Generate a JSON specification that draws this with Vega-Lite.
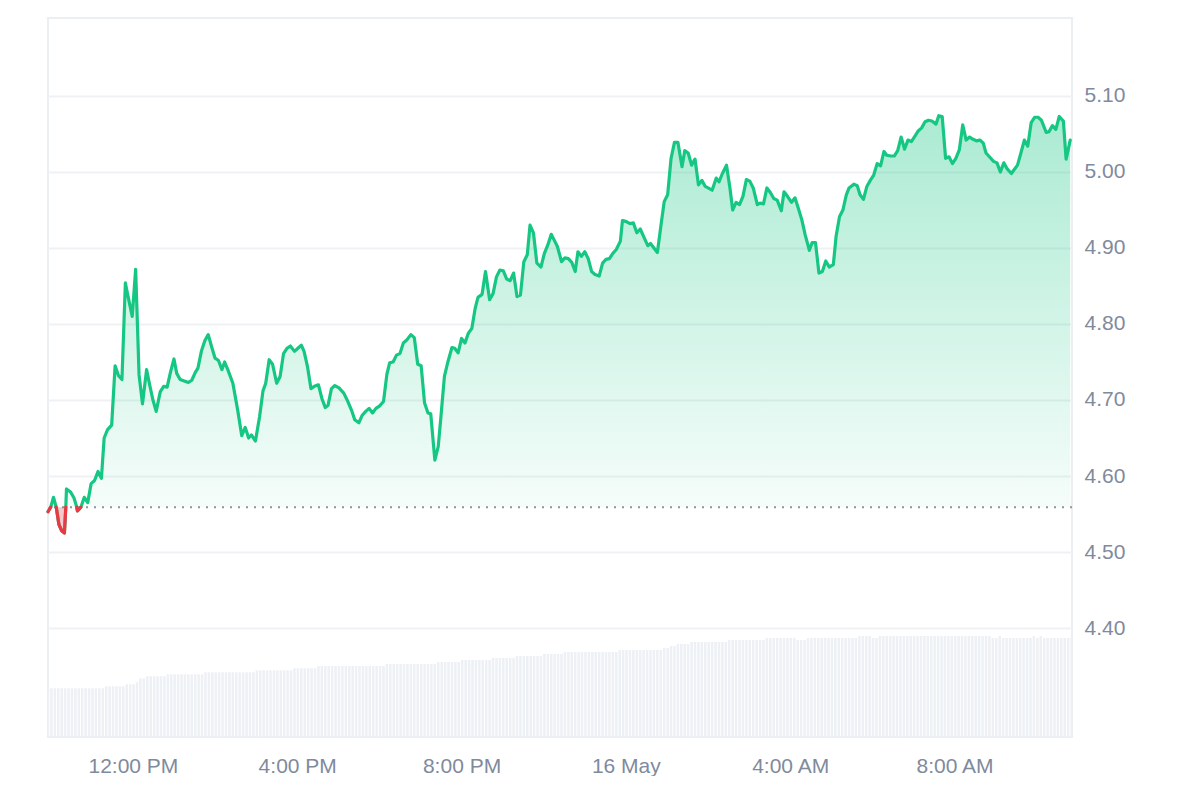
{
  "$schema": "https://vega.github.io/schema/vega-lite/v6.json",
  "width": 1024,
  "height": 719,
  "padding": {"left": 46, "top": 18, "right": 0, "bottom": 0},
  "background": "white",
  "config": {
    "view": {"stroke": "#eceff2", "strokeWidth": 2},
    "axis": {"domain": false, "ticks": false, "labelFont": "Liberation Sans", "labelFontSize": 21, "labelColor": "#808a9d"}
  },
  "datasets": {
    "price": [
      {"t":"2024-05-15T09:56","p":4.553},{"t":"2024-05-15T10:00","p":4.559},{"t":"2024-05-15T10:04","p":4.572},{"t":"2024-05-15T10:08","p":4.559},
      {"t":"2024-05-15T10:12","p":4.536},{"t":"2024-05-15T10:16","p":4.528},{"t":"2024-05-15T10:20","p":4.525},{"t":"2024-05-15T10:22","p":4.559},
      {"t":"2024-05-15T10:23","p":4.583},{"t":"2024-05-15T10:29","p":4.579},{"t":"2024-05-15T10:34","p":4.571},{"t":"2024-05-15T10:38","p":4.559},
      {"t":"2024-05-15T10:39","p":4.554},{"t":"2024-05-15T10:44","p":4.559},{"t":"2024-05-15T10:49","p":4.572},{"t":"2024-05-15T10:54","p":4.565},
      {"t":"2024-05-15T10:59","p":4.590},{"t":"2024-05-15T11:04","p":4.594},{"t":"2024-05-15T11:09","p":4.606},{"t":"2024-05-15T11:14","p":4.597},
      {"t":"2024-05-15T11:18","p":4.650},{"t":"2024-05-15T11:23","p":4.661},{"t":"2024-05-15T11:29","p":4.667},{"t":"2024-05-15T11:34","p":4.745},
      {"t":"2024-05-15T11:39","p":4.732},{"t":"2024-05-15T11:44","p":4.727},{"t":"2024-05-15T11:49","p":4.854},{"t":"2024-05-15T11:53","p":4.836},
      {"t":"2024-05-15T11:59","p":4.810},{"t":"2024-05-15T12:04","p":4.872},{"t":"2024-05-15T12:09","p":4.733},{"t":"2024-05-15T12:14","p":4.695},
      {"t":"2024-05-15T12:20","p":4.740},{"t":"2024-05-15T12:24","p":4.722},{"t":"2024-05-15T12:29","p":4.701},{"t":"2024-05-15T12:34","p":4.685},
      {"t":"2024-05-15T12:40","p":4.711},{"t":"2024-05-15T12:45","p":4.718},{"t":"2024-05-15T12:50","p":4.717},{"t":"2024-05-15T12:55","p":4.737},
      {"t":"2024-05-15T13:00","p":4.754},{"t":"2024-05-15T13:04","p":4.735},{"t":"2024-05-15T13:09","p":4.727},{"t":"2024-05-15T13:15","p":4.725},
      {"t":"2024-05-15T13:21","p":4.723},{"t":"2024-05-15T13:26","p":4.726},{"t":"2024-05-15T13:31","p":4.736},{"t":"2024-05-15T13:35","p":4.742},
      {"t":"2024-05-15T13:40","p":4.764},{"t":"2024-05-15T13:45","p":4.778},{"t":"2024-05-15T13:50","p":4.786},{"t":"2024-05-15T13:55","p":4.770},
      {"t":"2024-05-15T14:00","p":4.755},{"t":"2024-05-15T14:05","p":4.752},{"t":"2024-05-15T14:10","p":4.740},{"t":"2024-05-15T14:14","p":4.750},
      {"t":"2024-05-15T14:19","p":4.739},{"t":"2024-05-15T14:26","p":4.722},{"t":"2024-05-15T14:33","p":4.687},{"t":"2024-05-15T14:39","p":4.653},
      {"t":"2024-05-15T14:44","p":4.664},{"t":"2024-05-15T14:49","p":4.650},{"t":"2024-05-15T14:53","p":4.654},{"t":"2024-05-15T14:59","p":4.646},
      {"t":"2024-05-15T15:05","p":4.678},{"t":"2024-05-15T15:10","p":4.712},{"t":"2024-05-15T15:14","p":4.722},{"t":"2024-05-15T15:19","p":4.753},
      {"t":"2024-05-15T15:24","p":4.747},{"t":"2024-05-15T15:30","p":4.722},{"t":"2024-05-15T15:35","p":4.731},{"t":"2024-05-15T15:40","p":4.761},
      {"t":"2024-05-15T15:45","p":4.768},{"t":"2024-05-15T15:50","p":4.771},{"t":"2024-05-15T15:56","p":4.764},{"t":"2024-05-15T16:01","p":4.768},
      {"t":"2024-05-15T16:06","p":4.772},{"t":"2024-05-15T16:10","p":4.764},{"t":"2024-05-15T16:15","p":4.744},{"t":"2024-05-15T16:20","p":4.715},
      {"t":"2024-05-15T16:25","p":4.718},{"t":"2024-05-15T16:31","p":4.720},{"t":"2024-05-15T16:36","p":4.702},{"t":"2024-05-15T16:41","p":4.690},
      {"t":"2024-05-15T16:45","p":4.693},{"t":"2024-05-15T16:50","p":4.715},{"t":"2024-05-15T16:55","p":4.719},{"t":"2024-05-15T17:01","p":4.716},
      {"t":"2024-05-15T17:08","p":4.709},{"t":"2024-05-15T17:14","p":4.698},{"t":"2024-05-15T17:20","p":4.685},{"t":"2024-05-15T17:24","p":4.674},
      {"t":"2024-05-15T17:30","p":4.670},{"t":"2024-05-15T17:35","p":4.680},{"t":"2024-05-15T17:40","p":4.685},{"t":"2024-05-15T17:45","p":4.689},
      {"t":"2024-05-15T17:50","p":4.683},{"t":"2024-05-15T17:55","p":4.689},{"t":"2024-05-15T18:00","p":4.692},{"t":"2024-05-15T18:06","p":4.698},
      {"t":"2024-05-15T18:11","p":4.734},{"t":"2024-05-15T18:15","p":4.749},{"t":"2024-05-15T18:20","p":4.750},{"t":"2024-05-15T18:25","p":4.759},
      {"t":"2024-05-15T18:30","p":4.761},{"t":"2024-05-15T18:35","p":4.775},{"t":"2024-05-15T18:40","p":4.779},{"t":"2024-05-15T18:46","p":4.786},
      {"t":"2024-05-15T18:51","p":4.782},{"t":"2024-05-15T18:56","p":4.747},{"t":"2024-05-15T19:01","p":4.745},{"t":"2024-05-15T19:06","p":4.696},
      {"t":"2024-05-15T19:11","p":4.683},{"t":"2024-05-15T19:15","p":4.682},{"t":"2024-05-15T19:21","p":4.621},{"t":"2024-05-15T19:26","p":4.639},
      {"t":"2024-05-15T19:30","p":4.679},{"t":"2024-05-15T19:35","p":4.731},{"t":"2024-05-15T19:40","p":4.750},{"t":"2024-05-15T19:46","p":4.769},
      {"t":"2024-05-15T19:50","p":4.768},{"t":"2024-05-15T19:55","p":4.762},{"t":"2024-05-15T20:00","p":4.781},{"t":"2024-05-15T20:05","p":4.775},
      {"t":"2024-05-15T20:10","p":4.788},{"t":"2024-05-15T20:15","p":4.794},{"t":"2024-05-15T20:20","p":4.821},{"t":"2024-05-15T20:24","p":4.835},
      {"t":"2024-05-15T20:30","p":4.839},{"t":"2024-05-15T20:35","p":4.869},{"t":"2024-05-15T20:41","p":4.832},{"t":"2024-05-15T20:46","p":4.840},
      {"t":"2024-05-15T20:51","p":4.862},{"t":"2024-05-15T20:56","p":4.871},{"t":"2024-05-15T21:01","p":4.870},{"t":"2024-05-15T21:06","p":4.859},
      {"t":"2024-05-15T21:11","p":4.857},{"t":"2024-05-15T21:16","p":4.867},{"t":"2024-05-15T21:21","p":4.836},{"t":"2024-05-15T21:26","p":4.838},
      {"t":"2024-05-15T21:31","p":4.882},{"t":"2024-05-15T21:36","p":4.891},{"t":"2024-05-15T21:40","p":4.930},{"t":"2024-05-15T21:45","p":4.920},
      {"t":"2024-05-15T21:50","p":4.880},{"t":"2024-05-15T21:56","p":4.875},{"t":"2024-05-15T22:01","p":4.893},{"t":"2024-05-15T22:06","p":4.904},
      {"t":"2024-05-15T22:11","p":4.918},{"t":"2024-05-15T22:15","p":4.911},{"t":"2024-05-15T22:20","p":4.902},{"t":"2024-05-15T22:26","p":4.882},
      {"t":"2024-05-15T22:31","p":4.887},{"t":"2024-05-15T22:36","p":4.886},{"t":"2024-05-15T22:41","p":4.881},{"t":"2024-05-15T22:46","p":4.869},
      {"t":"2024-05-15T22:50","p":4.895},{"t":"2024-05-15T22:55","p":4.889},{"t":"2024-05-15T23:00","p":4.895},{"t":"2024-05-15T23:05","p":4.886},
      {"t":"2024-05-15T23:10","p":4.869},{"t":"2024-05-15T23:15","p":4.865},{"t":"2024-05-15T23:21","p":4.863},{"t":"2024-05-15T23:26","p":4.880},
      {"t":"2024-05-15T23:31","p":4.885},{"t":"2024-05-15T23:36","p":4.886},{"t":"2024-05-15T23:41","p":4.893},{"t":"2024-05-15T23:46","p":4.898},
      {"t":"2024-05-15T23:52","p":4.909},{"t":"2024-05-15T23:55","p":4.936},{"t":"2024-05-16T00:00","p":4.935},{"t":"2024-05-16T00:06","p":4.932},
      {"t":"2024-05-16T00:11","p":4.933},{"t":"2024-05-16T00:16","p":4.920},{"t":"2024-05-16T00:21","p":4.925},{"t":"2024-05-16T00:26","p":4.915},
      {"t":"2024-05-16T00:32","p":4.903},{"t":"2024-05-16T00:36","p":4.906},{"t":"2024-05-16T00:41","p":4.900},{"t":"2024-05-16T00:46","p":4.894},
      {"t":"2024-05-16T00:51","p":4.928},{"t":"2024-05-16T00:56","p":4.961},{"t":"2024-05-16T01:01","p":4.970},{"t":"2024-05-16T01:06","p":5.018},
      {"t":"2024-05-16T01:11","p":5.039},{"t":"2024-05-16T01:16","p":5.039},{"t":"2024-05-16T01:22","p":5.007},{"t":"2024-05-16T01:26","p":5.028},
      {"t":"2024-05-16T01:31","p":5.025},{"t":"2024-05-16T01:36","p":5.009},{"t":"2024-05-16T01:41","p":5.017},{"t":"2024-05-16T01:46","p":4.983},
      {"t":"2024-05-16T01:51","p":4.989},{"t":"2024-05-16T01:56","p":4.981},{"t":"2024-05-16T02:00","p":4.979},{"t":"2024-05-16T02:06","p":4.976},
      {"t":"2024-05-16T02:12","p":4.992},{"t":"2024-05-16T02:16","p":4.987},{"t":"2024-05-16T02:21","p":4.998},{"t":"2024-05-16T02:27","p":5.009},
      {"t":"2024-05-16T02:32","p":4.979},{"t":"2024-05-16T02:36","p":4.950},{"t":"2024-05-16T02:41","p":4.960},{"t":"2024-05-16T02:46","p":4.957},
      {"t":"2024-05-16T02:51","p":4.968},{"t":"2024-05-16T02:56","p":4.990},{"t":"2024-05-16T03:01","p":4.988},{"t":"2024-05-16T03:06","p":4.979},
      {"t":"2024-05-16T03:12","p":4.957},{"t":"2024-05-16T03:16","p":4.959},{"t":"2024-05-16T03:21","p":4.958},{"t":"2024-05-16T03:26","p":4.979},
      {"t":"2024-05-16T03:31","p":4.973},{"t":"2024-05-16T03:36","p":4.965},{"t":"2024-05-16T03:41","p":4.963},{"t":"2024-05-16T03:47","p":4.949},
      {"t":"2024-05-16T03:51","p":4.974},{"t":"2024-05-16T03:56","p":4.968},{"t":"2024-05-16T04:02","p":4.960},{"t":"2024-05-16T04:07","p":4.966},
      {"t":"2024-05-16T04:12","p":4.952},{"t":"2024-05-16T04:17","p":4.937},{"t":"2024-05-16T04:22","p":4.917},{"t":"2024-05-16T04:28","p":4.897},
      {"t":"2024-05-16T04:32","p":4.907},{"t":"2024-05-16T04:37","p":4.907},{"t":"2024-05-16T04:42","p":4.867},{"t":"2024-05-16T04:47","p":4.869},
      {"t":"2024-05-16T04:52","p":4.883},{"t":"2024-05-16T04:57","p":4.875},{"t":"2024-05-16T05:03","p":4.878},{"t":"2024-05-16T05:07","p":4.915},
      {"t":"2024-05-16T05:12","p":4.941},{"t":"2024-05-16T05:17","p":4.950},{"t":"2024-05-16T05:22","p":4.970},{"t":"2024-05-16T05:26","p":4.979},
      {"t":"2024-05-16T05:33","p":4.984},{"t":"2024-05-16T05:38","p":4.982},{"t":"2024-05-16T05:42","p":4.970},{"t":"2024-05-16T05:47","p":4.964},
      {"t":"2024-05-16T05:52","p":4.981},{"t":"2024-05-16T05:57","p":4.989},{"t":"2024-05-16T06:02","p":4.996},{"t":"2024-05-16T06:07","p":5.011},
      {"t":"2024-05-16T06:12","p":5.008},{"t":"2024-05-16T06:17","p":5.027},{"t":"2024-05-16T06:21","p":5.022},{"t":"2024-05-16T06:27","p":5.021},
      {"t":"2024-05-16T06:32","p":5.021},{"t":"2024-05-16T06:37","p":5.028},{"t":"2024-05-16T06:42","p":5.046},{"t":"2024-05-16T06:47","p":5.030},
      {"t":"2024-05-16T06:52","p":5.042},{"t":"2024-05-16T06:57","p":5.040},{"t":"2024-05-16T07:02","p":5.047},{"t":"2024-05-16T07:07","p":5.054},
      {"t":"2024-05-16T07:12","p":5.058},{"t":"2024-05-16T07:17","p":5.066},{"t":"2024-05-16T07:22","p":5.068},{"t":"2024-05-16T07:27","p":5.067},
      {"t":"2024-05-16T07:33","p":5.063},{"t":"2024-05-16T07:37","p":5.074},{"t":"2024-05-16T07:42","p":5.073},{"t":"2024-05-16T07:47","p":5.018},
      {"t":"2024-05-16T07:52","p":5.020},{"t":"2024-05-16T07:57","p":5.011},{"t":"2024-05-16T08:02","p":5.018},{"t":"2024-05-16T08:07","p":5.029},
      {"t":"2024-05-16T08:12","p":5.062},{"t":"2024-05-16T08:17","p":5.042},{"t":"2024-05-16T08:22","p":5.046},{"t":"2024-05-16T08:27","p":5.043},
      {"t":"2024-05-16T08:32","p":5.041},{"t":"2024-05-16T08:37","p":5.042},{"t":"2024-05-16T08:42","p":5.038},{"t":"2024-05-16T08:46","p":5.025},
      {"t":"2024-05-16T08:51","p":5.020},{"t":"2024-05-16T08:57","p":5.014},{"t":"2024-05-16T09:02","p":5.012},{"t":"2024-05-16T09:07","p":5.000},
      {"t":"2024-05-16T09:12","p":5.012},{"t":"2024-05-16T09:17","p":5.004},{"t":"2024-05-16T09:23","p":4.998},{"t":"2024-05-16T09:27","p":5.003},
      {"t":"2024-05-16T09:32","p":5.009},{"t":"2024-05-16T09:37","p":5.025},{"t":"2024-05-16T09:42","p":5.042},{"t":"2024-05-16T09:47","p":5.034},
      {"t":"2024-05-16T09:52","p":5.065},{"t":"2024-05-16T09:57","p":5.072},{"t":"2024-05-16T10:02","p":5.072},{"t":"2024-05-16T10:07","p":5.068},
      {"t":"2024-05-16T10:14","p":5.052},{"t":"2024-05-16T10:18","p":5.053},{"t":"2024-05-16T10:23","p":5.061},{"t":"2024-05-16T10:28","p":5.056},
      {"t":"2024-05-16T10:33","p":5.073},{"t":"2024-05-16T10:39","p":5.067},{"t":"2024-05-16T10:43","p":5.017},{"t":"2024-05-16T10:46","p":5.029},
      {"t":"2024-05-16T10:49","p":5.042}
    ],
    "vol": [
      {"t":"2024-05-15T09:56","v":4.87},
      {"t":"2024-05-15T10:01","v":4.87},{"t":"2024-05-15T10:06","v":4.87},{"t":"2024-05-15T10:11","v":4.87},{"t":"2024-05-15T10:16","v":4.87},{"t":"2024-05-15T10:21","v":4.87},{"t":"2024-05-15T10:26","v":4.87},
      {"t":"2024-05-15T10:31","v":4.87},{"t":"2024-05-15T10:36","v":4.87},{"t":"2024-05-15T10:41","v":4.87},{"t":"2024-05-15T10:46","v":4.87},{"t":"2024-05-15T10:51","v":4.87},{"t":"2024-05-15T10:56","v":4.87},
      {"t":"2024-05-15T11:01","v":4.87},{"t":"2024-05-15T11:06","v":4.87},{"t":"2024-05-15T11:11","v":4.87},{"t":"2024-05-15T11:16","v":4.87},{"t":"2024-05-15T11:21","v":5.07},{"t":"2024-05-15T11:26","v":5.07},
      {"t":"2024-05-15T11:31","v":5.07},{"t":"2024-05-15T11:36","v":5.07},{"t":"2024-05-15T11:41","v":5.07},{"t":"2024-05-15T11:46","v":5.07},{"t":"2024-05-15T11:51","v":5.27},{"t":"2024-05-15T11:56","v":5.27},
      {"t":"2024-05-15T12:01","v":5.27},{"t":"2024-05-15T12:06","v":5.47},{"t":"2024-05-15T12:11","v":5.87},{"t":"2024-05-15T12:16","v":5.87},{"t":"2024-05-15T12:21","v":6.07},{"t":"2024-05-15T12:26","v":6.07},
      {"t":"2024-05-15T12:31","v":6.07},{"t":"2024-05-15T12:36","v":6.07},{"t":"2024-05-15T12:41","v":6.07},{"t":"2024-05-15T12:46","v":6.07},{"t":"2024-05-15T12:51","v":6.27},{"t":"2024-05-15T12:56","v":6.27},
      {"t":"2024-05-15T13:01","v":6.27},{"t":"2024-05-15T13:06","v":6.27},{"t":"2024-05-15T13:11","v":6.27},{"t":"2024-05-15T13:16","v":6.27},{"t":"2024-05-15T13:21","v":6.27},{"t":"2024-05-15T13:26","v":6.27},
      {"t":"2024-05-15T13:31","v":6.27},{"t":"2024-05-15T13:36","v":6.27},{"t":"2024-05-15T13:41","v":6.27},{"t":"2024-05-15T13:46","v":6.47},{"t":"2024-05-15T13:51","v":6.47},{"t":"2024-05-15T13:56","v":6.47},
      {"t":"2024-05-15T14:01","v":6.47},{"t":"2024-05-15T14:06","v":6.47},{"t":"2024-05-15T14:11","v":6.47},{"t":"2024-05-15T14:16","v":6.47},{"t":"2024-05-15T14:21","v":6.47},{"t":"2024-05-15T14:26","v":6.47},
      {"t":"2024-05-15T14:31","v":6.47},{"t":"2024-05-15T14:36","v":6.47},{"t":"2024-05-15T14:41","v":6.47},{"t":"2024-05-15T14:46","v":6.47},{"t":"2024-05-15T14:51","v":6.47},{"t":"2024-05-15T14:56","v":6.47},
      {"t":"2024-05-15T15:01","v":6.67},{"t":"2024-05-15T15:06","v":6.67},{"t":"2024-05-15T15:11","v":6.67},{"t":"2024-05-15T15:16","v":6.67},{"t":"2024-05-15T15:21","v":6.67},{"t":"2024-05-15T15:26","v":6.67},
      {"t":"2024-05-15T15:31","v":6.67},{"t":"2024-05-15T15:36","v":6.67},{"t":"2024-05-15T15:41","v":6.67},{"t":"2024-05-15T15:46","v":6.67},{"t":"2024-05-15T15:51","v":6.67},{"t":"2024-05-15T15:56","v":6.87},
      {"t":"2024-05-15T16:01","v":6.87},{"t":"2024-05-15T16:06","v":6.87},{"t":"2024-05-15T16:11","v":6.87},{"t":"2024-05-15T16:16","v":6.87},{"t":"2024-05-15T16:21","v":6.87},{"t":"2024-05-15T16:26","v":6.87},
      {"t":"2024-05-15T16:31","v":7.1},{"t":"2024-05-15T16:36","v":7.1},{"t":"2024-05-15T16:41","v":7.1},{"t":"2024-05-15T16:46","v":7.1},{"t":"2024-05-15T16:51","v":7.1},{"t":"2024-05-15T16:56","v":7.1},
      {"t":"2024-05-15T17:01","v":7.1},{"t":"2024-05-15T17:06","v":7.1},{"t":"2024-05-15T17:11","v":7.1},{"t":"2024-05-15T17:16","v":7.1},{"t":"2024-05-15T17:21","v":7.1},{"t":"2024-05-15T17:26","v":7.1},
      {"t":"2024-05-15T17:31","v":7.1},{"t":"2024-05-15T17:36","v":7.1},{"t":"2024-05-15T17:41","v":7.1},{"t":"2024-05-15T17:46","v":7.1},{"t":"2024-05-15T17:51","v":7.1},{"t":"2024-05-15T17:56","v":7.1},
      {"t":"2024-05-15T18:01","v":7.1},{"t":"2024-05-15T18:06","v":7.1},{"t":"2024-05-15T18:11","v":7.3},{"t":"2024-05-15T18:16","v":7.3},{"t":"2024-05-15T18:21","v":7.3},{"t":"2024-05-15T18:26","v":7.3},
      {"t":"2024-05-15T18:31","v":7.3},{"t":"2024-05-15T18:36","v":7.3},{"t":"2024-05-15T18:41","v":7.3},{"t":"2024-05-15T18:46","v":7.3},{"t":"2024-05-15T18:51","v":7.3},{"t":"2024-05-15T18:56","v":7.3},
      {"t":"2024-05-15T19:01","v":7.3},{"t":"2024-05-15T19:06","v":7.3},{"t":"2024-05-15T19:11","v":7.3},{"t":"2024-05-15T19:16","v":7.3},{"t":"2024-05-15T19:21","v":7.3},{"t":"2024-05-15T19:26","v":7.5},
      {"t":"2024-05-15T19:31","v":7.5},{"t":"2024-05-15T19:36","v":7.5},{"t":"2024-05-15T19:41","v":7.5},{"t":"2024-05-15T19:46","v":7.5},{"t":"2024-05-15T19:51","v":7.5},{"t":"2024-05-15T19:56","v":7.5},
      {"t":"2024-05-15T20:01","v":7.7},{"t":"2024-05-15T20:06","v":7.7},{"t":"2024-05-15T20:11","v":7.7},{"t":"2024-05-15T20:16","v":7.7},{"t":"2024-05-15T20:21","v":7.7},{"t":"2024-05-15T20:26","v":7.7},
      {"t":"2024-05-15T20:31","v":7.7},{"t":"2024-05-15T20:36","v":7.7},{"t":"2024-05-15T20:41","v":7.7},{"t":"2024-05-15T20:46","v":7.9},{"t":"2024-05-15T20:51","v":7.9},{"t":"2024-05-15T20:56","v":7.9},
      {"t":"2024-05-15T21:01","v":7.9},{"t":"2024-05-15T21:06","v":7.9},{"t":"2024-05-15T21:11","v":7.9},{"t":"2024-05-15T21:16","v":7.9},{"t":"2024-05-15T21:21","v":8.1},{"t":"2024-05-15T21:26","v":8.1},
      {"t":"2024-05-15T21:31","v":8.1},{"t":"2024-05-15T21:36","v":8.1},{"t":"2024-05-15T21:41","v":8.1},{"t":"2024-05-15T21:46","v":8.1},{"t":"2024-05-15T21:51","v":8.1},{"t":"2024-05-15T21:56","v":8.1},
      {"t":"2024-05-15T22:01","v":8.3},{"t":"2024-05-15T22:06","v":8.3},{"t":"2024-05-15T22:11","v":8.3},{"t":"2024-05-15T22:16","v":8.3},{"t":"2024-05-15T22:21","v":8.3},{"t":"2024-05-15T22:26","v":8.3},
      {"t":"2024-05-15T22:31","v":8.5},{"t":"2024-05-15T22:36","v":8.5},{"t":"2024-05-15T22:41","v":8.5},{"t":"2024-05-15T22:46","v":8.5},{"t":"2024-05-15T22:51","v":8.5},{"t":"2024-05-15T22:56","v":8.5},
      {"t":"2024-05-15T23:01","v":8.5},{"t":"2024-05-15T23:06","v":8.5},{"t":"2024-05-15T23:11","v":8.5},{"t":"2024-05-15T23:16","v":8.5},{"t":"2024-05-15T23:21","v":8.5},{"t":"2024-05-15T23:26","v":8.5},
      {"t":"2024-05-15T23:31","v":8.5},{"t":"2024-05-15T23:36","v":8.5},{"t":"2024-05-15T23:41","v":8.5},{"t":"2024-05-15T23:46","v":8.5},{"t":"2024-05-15T23:51","v":8.7},{"t":"2024-05-15T23:56","v":8.7},
      {"t":"2024-05-16T00:01","v":8.7},{"t":"2024-05-16T00:06","v":8.7},{"t":"2024-05-16T00:11","v":8.7},{"t":"2024-05-16T00:16","v":8.7},{"t":"2024-05-16T00:21","v":8.7},{"t":"2024-05-16T00:26","v":8.7},
      {"t":"2024-05-16T00:31","v":8.7},{"t":"2024-05-16T00:36","v":8.7},{"t":"2024-05-16T00:41","v":8.7},{"t":"2024-05-16T00:46","v":8.7},{"t":"2024-05-16T00:51","v":8.7},{"t":"2024-05-16T00:56","v":8.9},
      {"t":"2024-05-16T01:01","v":8.9},{"t":"2024-05-16T01:06","v":9.1},{"t":"2024-05-16T01:11","v":9.1},{"t":"2024-05-16T01:16","v":9.3},{"t":"2024-05-16T01:21","v":9.3},{"t":"2024-05-16T01:26","v":9.3},
      {"t":"2024-05-16T01:31","v":9.3},{"t":"2024-05-16T01:36","v":9.5},{"t":"2024-05-16T01:41","v":9.5},{"t":"2024-05-16T01:46","v":9.5},{"t":"2024-05-16T01:51","v":9.5},{"t":"2024-05-16T01:56","v":9.5},
      {"t":"2024-05-16T02:01","v":9.5},{"t":"2024-05-16T02:06","v":9.5},{"t":"2024-05-16T02:11","v":9.5},{"t":"2024-05-16T02:16","v":9.5},{"t":"2024-05-16T02:21","v":9.5},{"t":"2024-05-16T02:26","v":9.5},
      {"t":"2024-05-16T02:31","v":9.7},{"t":"2024-05-16T02:36","v":9.7},{"t":"2024-05-16T02:41","v":9.7},{"t":"2024-05-16T02:46","v":9.7},{"t":"2024-05-16T02:51","v":9.7},{"t":"2024-05-16T02:56","v":9.7},
      {"t":"2024-05-16T03:01","v":9.7},{"t":"2024-05-16T03:06","v":9.7},{"t":"2024-05-16T03:11","v":9.7},{"t":"2024-05-16T03:16","v":9.7},{"t":"2024-05-16T03:21","v":9.7},{"t":"2024-05-16T03:26","v":9.9},
      {"t":"2024-05-16T03:31","v":9.9},{"t":"2024-05-16T03:36","v":9.9},{"t":"2024-05-16T03:41","v":9.9},{"t":"2024-05-16T03:46","v":9.9},{"t":"2024-05-16T03:51","v":9.9},{"t":"2024-05-16T03:56","v":9.9},
      {"t":"2024-05-16T04:01","v":9.9},{"t":"2024-05-16T04:06","v":9.9},{"t":"2024-05-16T04:11","v":9.7},{"t":"2024-05-16T04:16","v":9.7},{"t":"2024-05-16T04:21","v":9.7},{"t":"2024-05-16T04:26","v":9.9},
      {"t":"2024-05-16T04:31","v":9.9},{"t":"2024-05-16T04:36","v":9.9},{"t":"2024-05-16T04:41","v":9.9},{"t":"2024-05-16T04:46","v":9.9},{"t":"2024-05-16T04:51","v":9.9},{"t":"2024-05-16T04:56","v":9.9},
      {"t":"2024-05-16T05:01","v":9.9},{"t":"2024-05-16T05:06","v":9.9},{"t":"2024-05-16T05:11","v":9.9},{"t":"2024-05-16T05:16","v":9.9},{"t":"2024-05-16T05:21","v":9.9},{"t":"2024-05-16T05:26","v":9.9},
      {"t":"2024-05-16T05:31","v":9.9},{"t":"2024-05-16T05:36","v":9.9},{"t":"2024-05-16T05:41","v":10.1},{"t":"2024-05-16T05:46","v":10.1},{"t":"2024-05-16T05:51","v":10.1},{"t":"2024-05-16T05:56","v":10.1},
      {"t":"2024-05-16T06:01","v":9.9},{"t":"2024-05-16T06:06","v":9.9},{"t":"2024-05-16T06:11","v":10.1},{"t":"2024-05-16T06:16","v":10.1},{"t":"2024-05-16T06:21","v":10.1},{"t":"2024-05-16T06:26","v":10.1},
      {"t":"2024-05-16T06:31","v":10.1},{"t":"2024-05-16T06:36","v":10.1},{"t":"2024-05-16T06:41","v":10.1},{"t":"2024-05-16T06:46","v":10.1},{"t":"2024-05-16T06:51","v":10.1},{"t":"2024-05-16T06:56","v":10.1},
      {"t":"2024-05-16T07:01","v":10.1},{"t":"2024-05-16T07:06","v":10.1},{"t":"2024-05-16T07:11","v":10.1},{"t":"2024-05-16T07:16","v":10.1},{"t":"2024-05-16T07:21","v":10.1},{"t":"2024-05-16T07:26","v":10.1},
      {"t":"2024-05-16T07:31","v":10.1},{"t":"2024-05-16T07:36","v":10.1},{"t":"2024-05-16T07:41","v":10.1},{"t":"2024-05-16T07:46","v":10.1},{"t":"2024-05-16T07:51","v":10.1},{"t":"2024-05-16T07:56","v":10.1},
      {"t":"2024-05-16T08:01","v":10.1},{"t":"2024-05-16T08:06","v":10.1},{"t":"2024-05-16T08:11","v":10.1},{"t":"2024-05-16T08:16","v":10.1},{"t":"2024-05-16T08:21","v":10.1},{"t":"2024-05-16T08:26","v":10.1},
      {"t":"2024-05-16T08:31","v":10.1},{"t":"2024-05-16T08:36","v":10.1},{"t":"2024-05-16T08:41","v":10.1},{"t":"2024-05-16T08:46","v":10.1},{"t":"2024-05-16T08:51","v":10.1},{"t":"2024-05-16T08:56","v":9.9},
      {"t":"2024-05-16T09:01","v":9.9},{"t":"2024-05-16T09:06","v":10.1},{"t":"2024-05-16T09:11","v":9.9},{"t":"2024-05-16T09:16","v":9.9},{"t":"2024-05-16T09:21","v":9.9},{"t":"2024-05-16T09:26","v":9.9},
      {"t":"2024-05-16T09:31","v":9.9},{"t":"2024-05-16T09:36","v":9.9},{"t":"2024-05-16T09:41","v":9.9},{"t":"2024-05-16T09:46","v":9.9},{"t":"2024-05-16T09:51","v":9.9},{"t":"2024-05-16T09:56","v":10.1},
      {"t":"2024-05-16T10:01","v":9.9},{"t":"2024-05-16T10:06","v":10.1},{"t":"2024-05-16T10:11","v":9.9},{"t":"2024-05-16T10:16","v":9.9},{"t":"2024-05-16T10:21","v":9.9},{"t":"2024-05-16T10:26","v":9.9},
      {"t":"2024-05-16T10:31","v":9.9},{"t":"2024-05-16T10:36","v":9.9},{"t":"2024-05-16T10:41","v":9.9},{"t":"2024-05-16T10:46","v":9.9},{"t":"2024-05-16T10:51","v":9.9}
    ]
  },
  "layer": [
    {
      "data": {"name": "vol", "format": {"parse": {"t": "utc:'%Y-%m-%dT%H:%M'"}}},
      "mark": {"type": "bar", "width": 2.5, "color": "#edf0f4", "clip": true},
      "encoding": {
        "x": {
          "field": "t", "type": "temporal", "title": null,
          "scale": {"type": "utc", "nice": false, "padding": 0, "domain": [1715766960000, 1715856696000]},
          "axis": {
            "grid": false, "labelPadding": 18, "labelFlush": false,
            "values": [1715774400000, 1715788800000, 1715803200000, 1715817600000, 1715832000000, 1715846400000],
            "labelExpr": "utchours(datum.value) == 0 ? utcFormat(datum.value, '%-d %B') : utcFormat(datum.value, '%-I:%M %p')"
          }
        },
        "y": {"field": "v", "type": "quantitative", "scale": {"domain": [0, 71.9], "nice": false}, "axis": null}
      }
    },
    {
      "data": {"name": "price", "format": {"parse": {"t": "utc:'%Y-%m-%dT%H:%M'"}}},
      "layer": [
        {
          "mark": {
            "type": "area",
            "color": {"gradient": "linear", "x1": 0, "y1": 0, "x2": 0, "y2": 1,
              "stops": [{"offset": 0, "color": "rgba(22,199,132,0.36)"}, {"offset": 1, "color": "rgba(22,199,132,0.02)"}]}
          },
          "encoding": {
            "x": {"field": "t", "type": "temporal", "title": null},
            "y": {
              "field": "p", "type": "quantitative", "title": null,
              "scale": {"domain": [4.2566, 5.2026], "nice": false, "zero": false},
              "axis": {"orient": "right", "values": [4.4, 4.5, 4.6, 4.7, 4.8, 4.9, 5.0, 5.1], "format": ".2f",
                "grid": true, "gridColor": "#eff1f4", "gridWidth": 2, "labelPadding": 12}
            },
            "y2": {"datum": 4.559}
          }
        },
        {
          "data": {"values": [{}]},
          "mark": {"type": "rule", "color": "#8f959e", "strokeWidth": 2, "strokeDash": [2, 6]},
          "encoding": {"y": {"datum": 4.559, "type": "quantitative"}}
        },
        {
          "mark": {"type": "line", "color": "#16c784", "strokeWidth": 3.2, "strokeJoin": "round", "strokeCap": "round"},
          "encoding": {
            "x": {"field": "t", "type": "temporal", "title": null},
            "y": {"field": "p", "type": "quantitative", "title": null}
          }
        },
        {
          "transform": [{"filter": "+datum.t <= 1715767200000"}],
          "layer": [
            {"mark": {"type": "area", "color": "rgba(234,57,67,0.25)"},
             "encoding": {"x": {"field": "t", "type": "temporal", "title": null}, "y": {"field": "p", "type": "quantitative", "title": null}, "y2": {"datum": 4.559}}},
            {"mark": {"type": "line", "color": "#ea3943", "strokeWidth": 3.2, "strokeJoin": "round", "strokeCap": "round"},
             "encoding": {"x": {"field": "t", "type": "temporal", "title": null}, "y": {"field": "p", "type": "quantitative", "title": null}}}
          ]
        },
        {
          "transform": [{"filter": "+datum.t >= 1715767680000 && +datum.t <= 1715768520000"}],
          "layer": [
            {"mark": {"type": "area", "color": "rgba(234,57,67,0.25)"},
             "encoding": {"x": {"field": "t", "type": "temporal", "title": null}, "y": {"field": "p", "type": "quantitative", "title": null}, "y2": {"datum": 4.559}}},
            {"mark": {"type": "line", "color": "#ea3943", "strokeWidth": 3.2, "strokeJoin": "round", "strokeCap": "round"},
             "encoding": {"x": {"field": "t", "type": "temporal", "title": null}, "y": {"field": "p", "type": "quantitative", "title": null}}}
          ]
        },
        {
          "transform": [{"filter": "+datum.t >= 1715769480000 && +datum.t <= 1715769840000"}],
          "layer": [
            {"mark": {"type": "area", "color": "rgba(234,57,67,0.25)"},
             "encoding": {"x": {"field": "t", "type": "temporal", "title": null}, "y": {"field": "p", "type": "quantitative", "title": null}, "y2": {"datum": 4.559}}},
            {"mark": {"type": "line", "color": "#ea3943", "strokeWidth": 3.2, "strokeJoin": "round", "strokeCap": "round"},
             "encoding": {"x": {"field": "t", "type": "temporal", "title": null}, "y": {"field": "p", "type": "quantitative", "title": null}}}
          ]
        }
      ]
    }
  ],
  "resolve": {"scale": {"y": "independent"}}
}
